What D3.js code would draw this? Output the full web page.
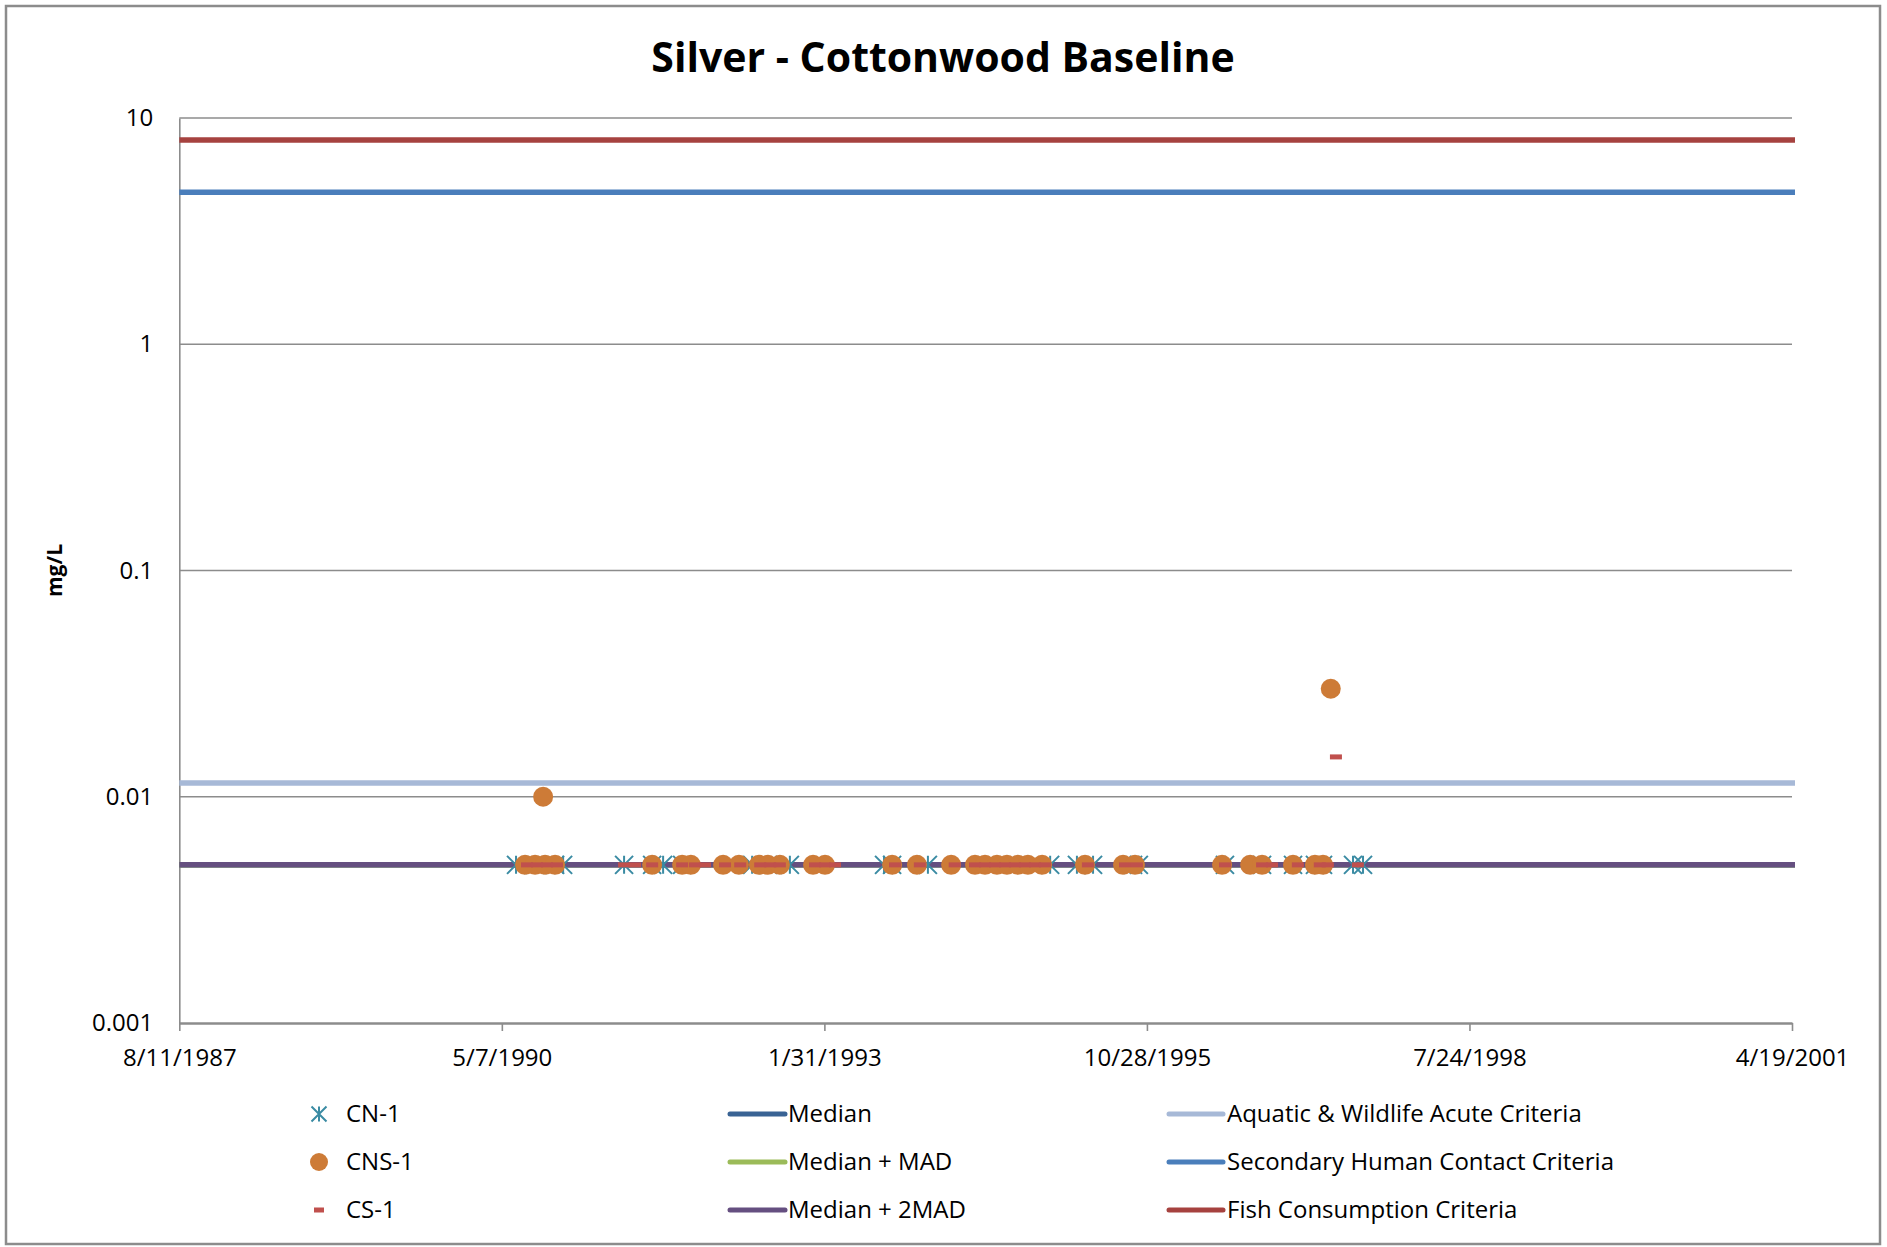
<!DOCTYPE html>
<html><head><meta charset="utf-8">
<script src="https://cdn.jsdelivr.net/npm/d3@7"></script>
<style>
body{margin:0;background:#fff}
svg{display:block}
text{font-family:'Open Sans',sans-serif;fill:#000}
</style>
</head><body>
<svg id="chart" width="1887" height="1247"></svg>
<script>
// ---------------- data (x values are Excel date serials) ----------------
const chartTitle = "Silver - Cottonwood Baseline";
const yAxisTitle = "mg/L";
const yTickValues = [0.001, 0.01, 0.1, 1, 10];
const yTickLabels = ["0.001", "0.01", "0.1", "1", "10"];
const xTickSerials = [32000, 33000, 34000, 35000, 36000, 37000];
const xTickLabels = ["8/11/1987", "5/7/1990", "1/31/1993", "10/28/1995", "7/24/1998", "4/19/2001"];

const cn1Dates = [33044, 33103, 33165, 33190, 33379, 33466, 33500, 33559, 33776, 33825, 33893, 34185, 34210, 34321, 34700, 34783, 34833, 34957, 34975, 35242, 35357, 35453, 35521, 35546, 35639, 35670];
const cn1Values = [0.005, 0.005, 0.005, 0.005, 0.005, 0.005, 0.005, 0.005, 0.005, 0.005, 0.005, 0.005, 0.005, 0.005, 0.005, 0.005, 0.005, 0.005, 0.005, 0.005, 0.005, 0.005, 0.005, 0.005, 0.005, 0.005];

const cns1Dates = [33072, 33103, 33128, 33134, 33165, 33466, 33559, 33586, 33686, 33735, 33797, 33825, 33862, 33965, 34002, 34210, 34287, 34393, 34467, 34498, 34535, 34566, 34600, 34631, 34675, 34808, 34926, 34963, 35233, 35320, 35357, 35453, 35521, 35546, 35570];
const cns1Values = [0.005, 0.005, 0.01, 0.005, 0.005, 0.005, 0.005, 0.005, 0.005, 0.005, 0.005, 0.005, 0.005, 0.005, 0.005, 0.005, 0.005, 0.005, 0.005, 0.005, 0.005, 0.005, 0.005, 0.005, 0.005, 0.005, 0.005, 0.005, 0.005, 0.005, 0.005, 0.005, 0.005, 0.005, 0.03];

const cs1Dates = [33078, 33109, 33140, 33171, 33379, 33413, 33466, 33559, 33599, 33630, 33692, 33739, 33801, 33832, 33862, 33971, 34002, 34033, 34219, 34296, 34404, 34467, 34498, 34529, 34560, 34591, 34622, 34653, 34684, 34817, 34932, 34969, 35242, 35357, 35388, 35468, 35536, 35561, 35586, 35654];
const cs1Values = [0.005, 0.005, 0.005, 0.005, 0.005, 0.005, 0.005, 0.005, 0.005, 0.005, 0.005, 0.005, 0.005, 0.005, 0.005, 0.005, 0.005, 0.005, 0.005, 0.005, 0.005, 0.005, 0.005, 0.005, 0.005, 0.005, 0.005, 0.005, 0.005, 0.005, 0.005, 0.005, 0.005, 0.005, 0.005, 0.005, 0.005, 0.005, 0.015, 0.005];

const refLineNames = ["Aquatic & Wildlife Acute Criteria", "Secondary Human Contact Criteria", "Fish Consumption Criteria", "Median", "Median + MAD", "Median + 2MAD"];
const refLineValues = [0.0115, 4.7, 8.0, 0.005, 0.005, 0.005];
const refLineColors = ["#A7B9D7", "#4A7EBB", "#A6423F", "#396394", "#9BBB59", "#654F80"];

const pointSeriesNames = ["CN-1", "CNS-1", "CS-1"];
const pointSeriesColors = ["#3A8BA3", "#CD7B37", "#C0504D"];

// ---------------- layout ----------------
const svg = d3.select("#chart");
const m = {left: 179.3, right: 1792, top: 118, bottom: 1023};
const x = d3.scaleLinear().domain([xTickSerials[0], xTickSerials[xTickSerials.length - 1]]).range([m.left, m.right]);
const y = d3.scaleLog().domain([yTickValues[0], yTickValues[yTickValues.length - 1]]).range([m.bottom, m.top]);
const GRID = "#8C8C8C";

// outer border
svg.append("rect").attr("x", 6).attr("y", 6).attr("width", 1874).attr("height", 1238)
  .attr("fill", "#fff").attr("stroke", GRID).attr("stroke-width", 2.5);

// title
svg.append("text").attr("x", 943).attr("y", 72).attr("text-anchor", "middle")
  .style("font-size", "41px").style("font-weight", "bold").text(chartTitle);

// gridlines
svg.append("g").selectAll("line").data(yTickValues.slice(1)).join("line")
  .attr("x1", m.left).attr("x2", m.right).attr("y1", d => y(d)).attr("y2", d => y(d))
  .attr("stroke", GRID).attr("stroke-width", 1.6);

// y axis
const yAxis = svg.append("g").attr("transform", `translate(${m.left},0)`)
  .call(d3.axisLeft(y).tickValues(yTickValues).tickFormat((d, i) => yTickLabels[i]).tickSize(0).tickPadding(26));
yAxis.select(".domain").attr("stroke", GRID).attr("stroke-width", 1.6);
yAxis.selectAll("text").style("font-size", "24px").style("font-family", "'Open Sans',sans-serif").attr("fill", "#000");

// x axis
const xAxis = svg.append("g").attr("transform", `translate(0,${m.bottom})`)
  .call(d3.axisBottom(x).tickValues(xTickSerials).tickFormat((d, i) => xTickLabels[i]).tickSizeInner(8).tickSizeOuter(0).tickPadding(18));
xAxis.select(".domain").attr("stroke", GRID).attr("stroke-width", 2.6);
xAxis.selectAll(".tick line").attr("stroke", GRID).attr("stroke-width", 1.6);
xAxis.selectAll("text").style("font-size", "24px").style("font-family", "'Open Sans',sans-serif").attr("fill", "#000");

// y-axis title
svg.append("text").attr("transform", `translate(62,${(m.top + m.bottom) / 2}) rotate(-90)`)
  .attr("text-anchor", "middle").style("font-size", "21px").style("font-weight", "bold").text(yAxisTitle);

// reference lines
const refData = refLineNames.map((n, i) => ({name: n, value: refLineValues[i], color: refLineColors[i]}));
svg.append("g").selectAll("line").data(refData).join("line")
  .attr("x1", x(xTickSerials[0])).attr("x2", x(xTickSerials[xTickSerials.length - 1]) + 3)
  .attr("y1", d => y(d.value)).attr("y2", d => y(d.value))
  .attr("stroke", d => d.color).attr("stroke-width", 5.5);

// markers
function starPath(r) {
  return `M0,${-r}L0,${r}M${-r},${-r}L${r},${r}M${-r},${r}L${r},${-r}`;
}
const cn1 = cn1Dates.map((d, i) => ({d, v: cn1Values[i]}));
const cns1 = cns1Dates.map((d, i) => ({d, v: cns1Values[i]}));
const cs1 = cs1Dates.map((d, i) => ({d, v: cs1Values[i]}));

svg.append("g").selectAll("path").data(cn1).join("path")
  .attr("transform", p => `translate(${x(p.d)},${y(p.v)})`)
  .attr("d", starPath(9)).attr("stroke", pointSeriesColors[0]).attr("stroke-width", 2).attr("fill", "none");

svg.append("g").selectAll("circle").data(cns1).join("circle")
  .attr("cx", p => x(p.d)).attr("cy", p => y(p.v)).attr("r", 10).attr("fill", pointSeriesColors[1]);

svg.append("g").selectAll("rect").data(cs1).join("rect")
  .attr("x", p => x(p.d) - 6).attr("y", p => y(p.v) - 2.5).attr("width", 12).attr("height", 5)
  .attr("fill", pointSeriesColors[2]);

// legend
const legendRowsY = [1114, 1162, 1210];
const lg = svg.append("g");
// column 1: point series
const c1x = 319, c1tx = 346;
lg.append("path").attr("transform", `translate(${c1x},${legendRowsY[0]})`).attr("d", starPath(7.5))
  .attr("stroke", pointSeriesColors[0]).attr("stroke-width", 2).attr("fill", "none");
lg.append("circle").attr("cx", c1x).attr("cy", legendRowsY[1]).attr("r", 9).attr("fill", pointSeriesColors[1]);
lg.append("rect").attr("x", c1x - 5).attr("y", legendRowsY[2] - 2.5).attr("width", 10).attr("height", 5).attr("fill", pointSeriesColors[2]);
pointSeriesNames.forEach((n, i) => {
  lg.append("text").attr("x", c1tx).attr("y", legendRowsY[i]).attr("dy", "0.35em").style("font-size", "24px").text(n);
});
// columns 2 and 3: lines
const colOrder = [[3, 4, 5], [0, 1, 2]];
const colX = [[730, 785, 788], [1169, 1223, 1227]];
colOrder.forEach((idxs, c) => {
  idxs.forEach((k, r) => {
    lg.append("line").attr("x1", colX[c][0]).attr("x2", colX[c][1])
      .attr("y1", legendRowsY[r]).attr("y2", legendRowsY[r])
      .attr("stroke", refLineColors[k]).attr("stroke-width", 5).attr("stroke-linecap", "round");
    lg.append("text").attr("x", colX[c][2]).attr("y", legendRowsY[r]).attr("dy", "0.35em")
      .style("font-size", "24px").text(refLineNames[k]);
  });
});
</script>
</body></html>
